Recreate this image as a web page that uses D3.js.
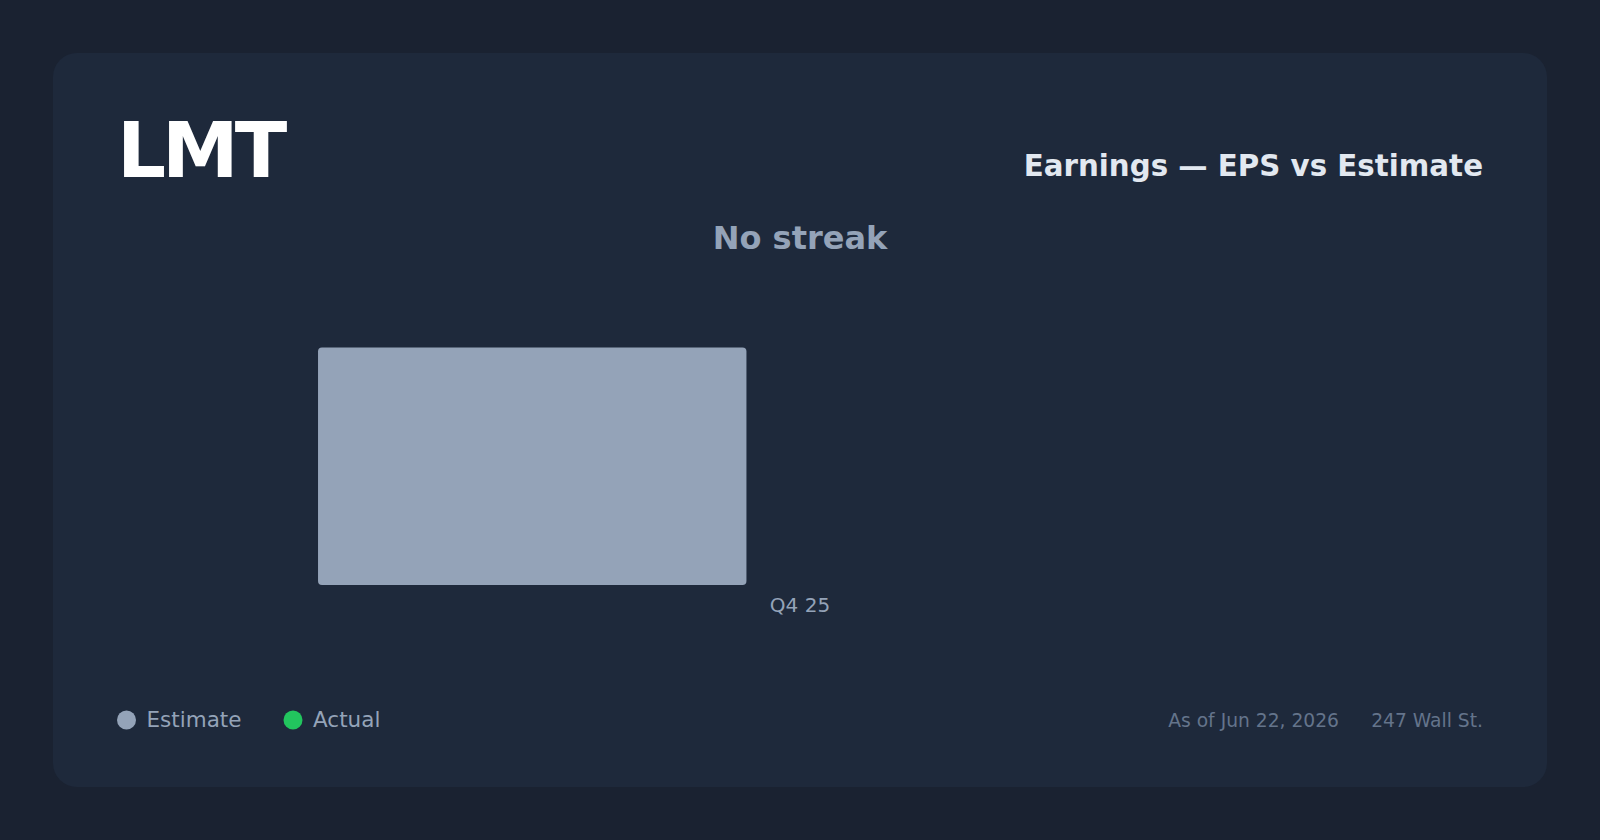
<!DOCTYPE html>
<html><head><meta charset="utf-8">
<script src="https://cdn.jsdelivr.net/npm/d3@7/dist/d3.min.js"></script>
<style>
html,body{margin:0;padding:0;background:#1a2231;}
svg{display:block;font-family:"DejaVu Sans",sans-serif;}
</style></head>
<body>
<svg id="chart" width="1600" height="840"></svg>
<script>
const ticker = "LMT";
const chartTitle = "Earnings — EPS vs Estimate";
const streakText = "No streak";
const quarters = ["Q4 25"];
const seriesNames = ["Estimate", "Actual"];
const estimateValues = [6.33];
const actualValues = [null];
const seriesColors = ["#94a3b8", "#22c55e"];
const asOfText = "As of Jun 22, 2026";
const sourceText = "247 Wall St.";

const W = 1600, H = 840;
const svg = d3.select("#chart");
svg.append("rect").attr("width", W).attr("height", H).attr("fill", "#1a2231");
const card = {x: 53, y: 53, w: 1494, h: 734};
svg.append("rect").attr("x", card.x).attr("y", card.y).attr("width", card.w).attr("height", card.h)
  .attr("rx", 24).attr("fill", "#1e293b");

const left = 118, right = 1482;
svg.append("text").attr("x", 117).attr("y", 177).attr("fill", "#ffffff")
  .attr("letter-spacing", -4)
  .attr("font-size", 77).attr("font-weight", "bold").text(ticker);
svg.append("text").attr("x", right + 1).attr("y", 176).attr("text-anchor", "end").attr("fill", "#e2e8f0")
  .attr("font-size", 29.3).attr("font-weight", "bold").text(chartTitle);
svg.append("text").attr("x", 800).attr("y", 249).attr("text-anchor", "middle").attr("fill", "#94a3b8")
  .attr("font-size", 32).attr("font-weight", "bold").text(streakText);

const data = quarters.map((q, i) => ({q, values: [estimateValues[i], actualValues[i]]}));
const maxV = d3.max(data.flatMap(d => d.values.filter(v => v != null)));
const x0 = d3.scaleBand().domain(quarters).range([left, right]).paddingInner(0).paddingOuter(0.2075);
const x1 = d3.scaleBand().domain(seriesNames).range([0, x0.bandwidth()]).paddingInner(0.2);
const y = d3.scaleLinear().domain([0, maxV * 1.2]).range([585, 300]);

const g = svg.append("g");
const groups = g.selectAll("g.q").data(data).join("g").attr("transform", d => `translate(${x0(d.q)},0)`);
groups.selectAll("rect").data(d => d.values.map((v, i) => ({v, s: seriesNames[i], c: seriesColors[i]})).filter(e => e.v != null))
  .join("rect")
  .attr("x", e => x1(e.s)).attr("width", x1.bandwidth())
  .attr("y", e => y(e.v)).attr("height", e => y(0) - y(e.v))
  .attr("rx", 4).attr("fill", e => e.c);

const xAxis = d3.axisBottom(x0).tickSize(0).tickPadding(0);
const ax = svg.append("g").attr("transform", `translate(0,${y(0)})`).call(xAxis);
ax.select(".domain").remove();
ax.selectAll("text").attr("font-size", 20).attr("fill", "#94a3b8").attr("font-family", "DejaVu Sans")
  .attr("dy", null).attr("y", 27);

// legend
const lg = svg.append("g").attr("transform", "translate(0,720)");
const lx = [126.5, 293];
seriesNames.forEach((s, i) => {
  lg.append("circle").attr("cx", lx[i]).attr("cy", 0).attr("r", 9.5).attr("fill", seriesColors[i]);
  lg.append("text").attr("x", lx[i] + 20).attr("y", 7).attr("fill", "#94a3b8").attr("font-size", 21.5).text(s);
});

svg.append("text").attr("x", right + 1).attr("y", 727).attr("text-anchor", "end").attr("fill", "#64748b")
  .attr("font-size", 18.7).text(sourceText);
svg.append("text").attr("x", 1339).attr("y", 727).attr("text-anchor", "end").attr("fill", "#64748b")
  .attr("font-size", 18.7).text(asOfText);
</script>
</body></html>
